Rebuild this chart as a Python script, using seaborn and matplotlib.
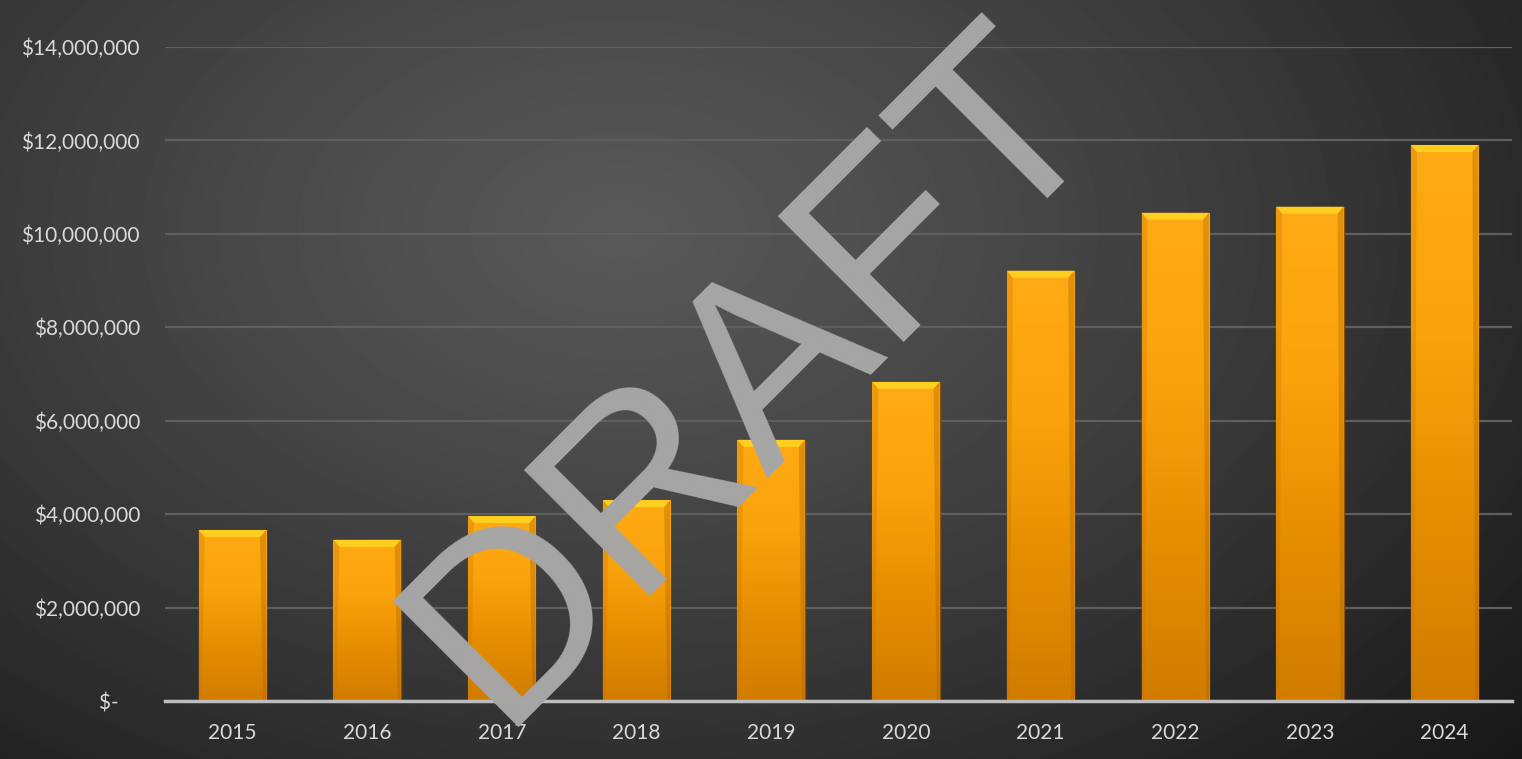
import numpy as np
import matplotlib
matplotlib.use("Agg")
import matplotlib.pyplot as plt
import seaborn as sns
from matplotlib.colors import LinearSegmentedColormap
from matplotlib.patches import Polygon
from matplotlib.ticker import FuncFormatter

years = ["2015", "2016", "2017", "2018", "2019", "2020", "2021", "2022", "2023", "2024"]
revenue = [3.66e6, 3.45e6, 3.96e6, 4.30e6, 5.59e6, 6.83e6, 9.21e6, 10.45e6, 10.58e6, 11.90e6]
yticks = [0, 2e6, 4e6, 6e6, 8e6, 10e6, 12e6, 14e6]
watermark = "DRAFT"

sns.set_theme(style="dark")
plt.rcParams['font.family'] = ['Lato', 'DejaVu Sans']

W, H = 1522, 759
fig = plt.figure(figsize=(W / 100, H / 100), dpi=100)

# radial gradient background
bg = fig.add_axes([0, 0, 1, 1], zorder=-10)
yy, xx = np.mgrid[0:H, 0:W]
r = np.sqrt(((xx - 620) / 950.0) ** 2 + ((yy - 230) / 620.0) ** 2)
val = 0.345 - 0.19 * np.clip(r, 0, 1.3) ** 1.2
bg.imshow(val, cmap="gray", vmin=0, vmax=1, aspect="auto", extent=[0, 1, 0, 1], interpolation="bilinear")
bg.axis("off")

ax = fig.add_axes([165 / W, 1 - 701 / H, (1512 - 165) / W, (701 - 47) / H])
ax.set_facecolor("none")
sns.barplot(x=years, y=revenue, color="#f59d00", width=0.5, saturation=1, ax=ax, zorder=3)

ax.set_xlim(-0.5, len(years) - 0.5)
ax.set_ylim(0, 14e6)
ax.set_yticks(yticks)
ax.yaxis.set_major_formatter(FuncFormatter(lambda v, p: "$-    " if v == 0 else f"${v:,.0f}"))
ax.grid(axis="y", color="#5f5f5f", lw=1.6)
ax.grid(axis="x", visible=False)
ax.set_axisbelow(True)
for s in ["left", "right", "top"]:
    ax.spines[s].set_visible(False)
ax.spines["bottom"].set_color("#bdbdbd")
ax.spines["bottom"].set_linewidth(2.5)
ax.spines["bottom"].set_zorder(5)
ax.tick_params(axis="both", length=0, colors="#d9d9d9", labelsize=15)
ax.tick_params(axis="y", pad=18)
ax.tick_params(axis="x", pad=16)
ax.set_xlabel("")
ax.set_ylabel("")

grad = LinearSegmentedColormap.from_list("g", ["#d17c00", "#e68e00", "#fba30c", "#ffaa14"])
grad_arr = np.linspace(0, 1, 256).reshape(-1, 1)
px_x = 1347 / 10.0  # pixels per category
px_y = 654 / 14e6
for p in list(ax.patches):
    x, y0 = p.get_x(), p.get_y()
    w, h = p.get_width(), p.get_height()
    p.set_edgecolor("#8a5200")
    p.set_linewidth(1.0)
    im = ax.imshow(grad_arr, cmap=grad, origin="lower", aspect="auto",
                   extent=[x, x + w, y0, y0 + h], zorder=3.5)
    im.set_clip_path(p)
    dx = 6 / px_x
    dy = 7 / px_y
    top = Polygon([[x, y0 + h], [x + w, y0 + h], [x + w - dx, y0 + h - dy], [x + dx, y0 + h - dy]],
                  closed=True, facecolor="#ffcf1f", edgecolor="none", zorder=4)
    ax.add_patch(top)
    sdx = 3 / px_x
    left = Polygon([[x, y0], [x, y0 + h], [x + dx, y0 + h - dy], [x + sdx, y0]],
                   closed=True, facecolor="#c77600", edgecolor="none", alpha=0.3, zorder=4)
    right = Polygon([[x + w, y0], [x + w, y0 + h], [x + w - dx, y0 + h - dy], [x + w - sdx, y0]],
                    closed=True, facecolor="#a86200", edgecolor="none", alpha=0.35, zorder=4)
    ax.add_patch(left)
    ax.add_patch(right)
ax.set_xlim(-0.5, len(years) - 0.5)
ax.set_ylim(0, 14e6)

fig.text(498 / W, 1 - 727 / H, watermark, rotation=45, fontsize=186, color="#a6a6a6",
         ha="left", va="baseline", rotation_mode="anchor", family=["Liberation Sans"], zorder=20)

fig.savefig("out.png", dpi=100)
